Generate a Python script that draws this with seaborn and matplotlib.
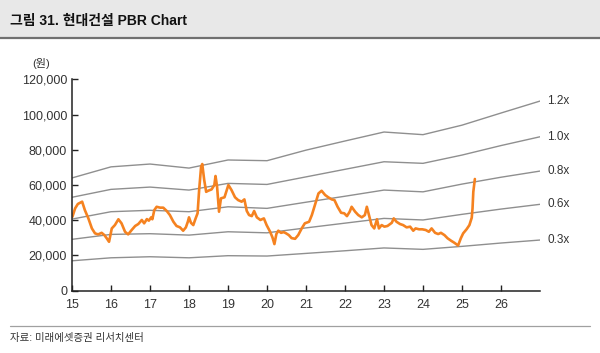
import pandas as pd
import seaborn as sns
import matplotlib.pyplot as plt
from matplotlib.patches import Rectangle
from matplotlib.lines import Line2D

# year-end band points (x = year, 15 -> 2015)
band_years = [15, 16, 17, 18, 19, 20, 21, 22, 23, 24, 25, 26, 27]
band_12 = [64000, 70300, 71900, 69600, 74200, 73800, 79800, 85000, 90100, 88600, 94000, 100900, 107700]
band_10 = [53000, 57500, 58800, 57100, 60900, 60300, 64600, 68900, 73200, 72300, 77000, 82400, 87400]
band_08 = [40600, 44800, 45600, 44800, 47600, 46700, 50200, 53600, 57100, 56100, 60500, 64400, 67900]
band_06 = [29100, 31900, 32300, 31500, 33400, 32800, 35600, 38300, 41000, 40100, 43300, 46300, 49000]
band_03 = [16900, 18600, 19200, 18600, 19800, 19600, 21100, 22600, 24200, 23400, 25100, 27000, 28700]
band_labels = ['1.2x', '1.0x', '0.8x', '0.6x', '0.3x']

# share price
price_t = [15.01, 15.08, 15.15, 15.26, 15.33, 15.42, 15.51, 15.59, 15.67, 15.76, 15.83, 15.89, 15.95,
           16.02, 16.10, 16.19, 16.27, 16.36, 16.44, 16.53, 16.62, 16.70, 16.79, 16.85, 16.92, 16.97,
           17.03, 17.06, 17.11, 17.17, 17.26, 17.34, 17.43, 17.51, 17.60, 17.68, 17.77, 17.85, 17.92, 17.97,
           18.00, 18.05, 18.11, 18.17, 18.22, 18.26, 18.31, 18.34, 18.39, 18.44, 18.49, 18.58, 18.65, 18.68,
           18.72, 18.77, 18.82, 18.91, 19.01, 19.09, 19.18, 19.26, 19.35, 19.42, 19.48, 19.54, 19.61, 19.67,
           19.74, 19.83, 19.92, 19.99, 20.08, 20.14, 20.19, 20.24, 20.29, 20.36, 20.43, 20.49, 20.56, 20.63,
           20.72, 20.80, 20.89, 20.97, 21.08, 21.15, 21.23, 21.32, 21.40, 21.49, 21.57, 21.66, 21.73, 21.81,
           21.90, 21.98, 22.05, 22.12, 22.17, 22.26, 22.34, 22.43, 22.51, 22.56, 22.62, 22.68, 22.75, 22.82,
           22.87, 22.94, 23.01, 23.09, 23.20, 23.25, 23.32, 23.41, 23.49, 23.58, 23.67, 23.75, 23.81, 23.90,
           23.98, 24.07, 24.15, 24.22, 24.31, 24.39, 24.46, 24.55, 24.63, 24.72, 24.80, 24.90, 24.97, 25.03,
           25.12, 25.19, 25.25, 25.27, 25.29, 25.32, 25.33]
price = [41900, 46700, 49200, 50500, 45700, 41000, 35300, 32500, 31900, 32800, 31500, 29700, 27700,
         35300, 37200, 40500, 38200, 33400, 31900, 34400, 36700, 37800, 40100, 38200, 40600, 39700,
         41600, 40500, 45700, 47600, 47100, 47100, 45200, 42900, 39100, 36700, 35900, 34000, 35900, 39100,
         41600, 38500, 37200, 41000, 43900, 57100, 70300, 71900, 62800, 56100, 56700, 57500, 60000, 65100,
         59000, 44800, 52400, 53000, 60000, 57100, 53000, 51400, 50500, 51800, 45300, 42900, 42300, 45200,
         41600, 40100, 41000, 37200, 33400, 30200, 26400, 32100, 34000, 32800, 33200, 32500, 31500, 29800,
         29400, 31500, 35300, 38200, 39100, 42900, 48600, 55200, 56700, 54300, 53000, 51800, 51400, 47600,
         44200, 43900, 42300, 44800, 47600, 44800, 42900, 41600, 42900, 47600, 42300, 37200, 35300, 40500,
         35300, 37200, 36300, 36700, 38500, 41000, 39100, 37800, 37200, 35900, 36300, 34000, 35300, 34800,
         34800, 34400, 33400, 35300, 32800, 32100, 32800, 31500, 29700, 28300, 27200, 25600, 29700, 32500,
         34900, 37200, 41400, 46700, 56100, 61800, 63400]

x_ticks = list(range(15, 27))
y_ticks = [0, 20000, 40000, 60000, 80000, 100000, 120000]

sns.set_style('white')
plt.rcParams['font.family'] = ['Liberation Sans', 'Noto Sans CJK KR']

fig = plt.figure(figsize=(6, 3.53), dpi=100)
ax = fig.add_axes([0.12, 0.177, 0.78, 0.598])

bands = pd.DataFrame({'year': band_years * 5,
                      'value': band_12 + band_10 + band_08 + band_06 + band_03,
                      'band': [b for b in band_labels for _ in band_years]})
sns.lineplot(data=bands, x='year', y='value', hue='band', palette=['#8f8f8f'] * 5,
             linewidth=1.0, legend=False, ax=ax)

price_df = pd.DataFrame({'t': price_t, 'price': price})
sns.lineplot(data=price_df, x='t', y='price', color='#f58220', linewidth=1.9, ax=ax)

# labels at the end of each band
for lab, vals in zip(band_labels, [band_12, band_10, band_08, band_06, band_03]):
    ax.text(27.18, vals[-1], lab, fontsize=8.5, color='#333333', va='center', ha='left', clip_on=False)

ax.set_xlim(15, 27)
ax.set_ylim(0, 120000)
ax.set_xticks(x_ticks)
ax.set_xticklabels([str(t) for t in x_ticks])
ax.set_yticks(y_ticks)
ax.set_yticklabels([f'{v:,}' for v in y_ticks])
ax.set_xlabel('')
ax.set_ylabel('')
ax.tick_params(axis='both', direction='in', length=4, width=1, color='#222222',
               labelsize=9, labelcolor='#333333', left=True, bottom=True)
ax.tick_params(axis='x', pad=6)
sns.despine(ax=ax)
ax.spines['left'].set_color('#222222')
ax.spines['bottom'].set_color('#222222')
ax.spines['left'].set_linewidth(1.1)
ax.spines['bottom'].set_linewidth(1.1)
ax.grid(False)

ax.text(-0.065, 1.05, '(원)', transform=ax.transAxes, fontsize=8, color='#333333',
        ha='center', va='bottom')

# title band
fig.patches.append(Rectangle((0, 1 - 37 / 353), 1, 37 / 353, transform=fig.transFigure,
                             facecolor='#e8e8e8', edgecolor='none', zorder=0))
fig.lines.append(Line2D([0, 1], [1 - 38 / 353] * 2, transform=fig.transFigure,
                        color='#707070', linewidth=1.6))
fig.text(10 / 600, 1 - 21 / 353, '그림 31. 현대건설 PBR Chart', fontsize=10, fontweight='bold',
         color='#111111', va='center', ha='left')

# source
fig.lines.append(Line2D([10 / 600, 590 / 600], [1 - 326 / 353] * 2, transform=fig.transFigure,
                        color='#a0a0a0', linewidth=0.9))
fig.text(10 / 600, 1 - 338 / 353, '자료: 미래에셋증권 리서치센터', fontsize=7.5,
         color='#333333', va='center', ha='left')

fig.savefig('out.png', dpi=100)
